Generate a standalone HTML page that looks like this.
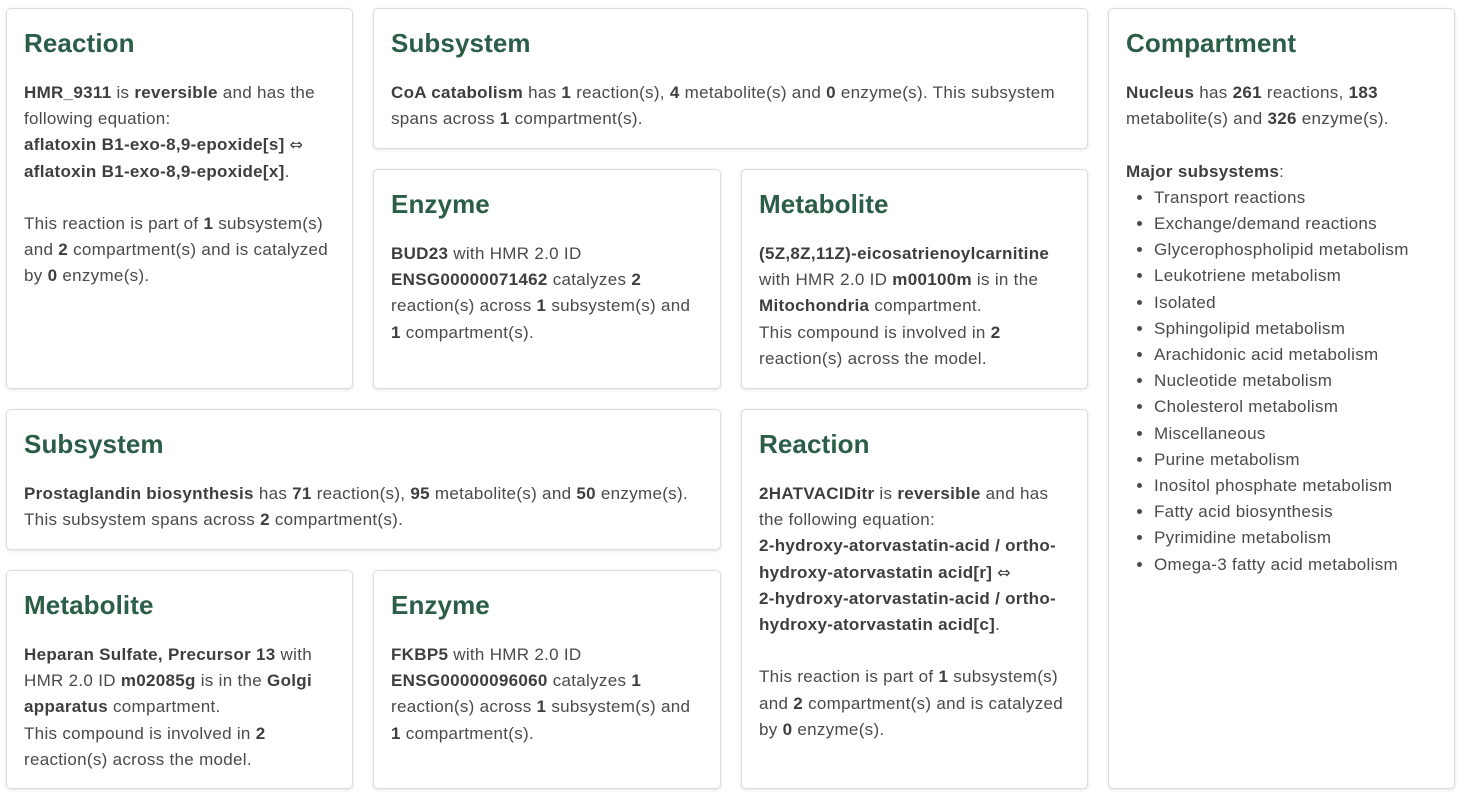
<!DOCTYPE html>
<html><head><meta charset="utf-8"><style>
body{margin:0;width:1465px;height:797px;background:#fff;font-family:"Liberation Sans",Arial,sans-serif;color:#4a4a4a;position:relative;overflow:hidden}
.c{position:absolute;box-sizing:border-box;border:1px solid #dcdcdc;border-radius:5px;box-shadow:0 1px 3px rgba(0,0,0,.12);padding:20px 10px 0 17px;background:#fff}
h2{margin:0 0 22px 0;font-size:26px;line-height:29px;font-weight:bold;color:#2b5e46;letter-spacing:0.1px}
p{margin:0;font-size:17px;line-height:26.2px;white-space:nowrap;letter-spacing:0.3px}
b{color:#3e3e3e}
.ar{font-family:"DejaVu Sans",sans-serif;font-weight:normal;font-size:16px}
ul{margin:0;padding:0 0 0 28px;font-size:17px;line-height:26.2px;letter-spacing:0.3px}
li{white-space:nowrap}
</style></head><body>
<div class="c" style="left:6px;top:8px;width:347px;height:381px"><h2>Reaction</h2>
<p><b>HMR_9311</b> is <b>reversible</b> and has the<br>following equation:<br><b>aflatoxin B1-exo-8,9-epoxide[s] <span class="ar">⇔</span><br>aflatoxin B1-exo-8,9-epoxide[x]</b>.<br><br>This reaction is part of <b>1</b> subsystem(s)<br>and <b>2</b> compartment(s) and is catalyzed<br>by <b>0</b> enzyme(s).</p></div>
<div class="c" style="left:373px;top:8px;width:715px;height:141px"><h2>Subsystem</h2>
<p><b>CoA catabolism</b> has <b>1</b> reaction(s), <b>4</b> metabolite(s) and <b>0</b> enzyme(s). This subsystem<br>spans across <b>1</b> compartment(s).</p></div>
<div class="c" style="left:373px;top:169px;width:348px;height:220px"><h2>Enzyme</h2>
<p><b>BUD23</b> with HMR 2.0 ID<br><b>ENSG00000071462</b> catalyzes <b>2</b><br>reaction(s) across <b>1</b> subsystem(s) and<br><b>1</b> compartment(s).</p></div>
<div class="c" style="left:741px;top:169px;width:347px;height:220px"><h2>Metabolite</h2>
<p><b>(5Z,8Z,11Z)-eicosatrienoylcarnitine</b><br>with HMR 2.0 ID <b>m00100m</b> is in the<br><b>Mitochondria</b> compartment.<br>This compound is involved in <b>2</b><br>reaction(s) across the model.</p></div>
<div class="c" style="left:1108px;top:8px;width:347px;height:781px"><h2>Compartment</h2>
<p><b>Nucleus</b> has <b>261</b> reactions, <b>183</b><br>metabolite(s) and <b>326</b> enzyme(s).<br><br><b>Major subsystems</b>:</p>
<ul><li>Transport reactions</li><li>Exchange/demand reactions</li><li>Glycerophospholipid metabolism</li><li>Leukotriene metabolism</li><li>Isolated</li><li>Sphingolipid metabolism</li><li>Arachidonic acid metabolism</li><li>Nucleotide metabolism</li><li>Cholesterol metabolism</li><li>Miscellaneous</li><li>Purine metabolism</li><li>Inositol phosphate metabolism</li><li>Fatty acid biosynthesis</li><li>Pyrimidine metabolism</li><li>Omega-3 fatty acid metabolism</li></ul></div>
<div class="c" style="left:6px;top:409px;width:715px;height:141px"><h2>Subsystem</h2>
<p><b>Prostaglandin biosynthesis</b> has <b>71</b> reaction(s), <b>95</b> metabolite(s) and <b>50</b> enzyme(s).<br>This subsystem spans across <b>2</b> compartment(s).</p></div>
<div class="c" style="left:741px;top:409px;width:347px;height:380px"><h2>Reaction</h2>
<p><b>2HATVACIDitr</b> is <b>reversible</b> and has<br>the following equation:<br><b>2-hydroxy-atorvastatin-acid / ortho-<br>hydroxy-atorvastatin acid[r] <span class="ar">⇔</span><br>2-hydroxy-atorvastatin-acid / ortho-<br>hydroxy-atorvastatin acid[c]</b>.<br><br>This reaction is part of <b>1</b> subsystem(s)<br>and <b>2</b> compartment(s) and is catalyzed<br>by <b>0</b> enzyme(s).</p></div>
<div class="c" style="left:6px;top:570px;width:347px;height:219px"><h2>Metabolite</h2>
<p><b>Heparan Sulfate, Precursor 13</b> with<br>HMR 2.0 ID <b>m02085g</b> is in the <b>Golgi<br>apparatus</b> compartment.<br>This compound is involved in <b>2</b><br>reaction(s) across the model.</p></div>
<div class="c" style="left:373px;top:570px;width:348px;height:219px"><h2>Enzyme</h2>
<p><b>FKBP5</b> with HMR 2.0 ID<br><b>ENSG00000096060</b> catalyzes <b>1</b><br>reaction(s) across <b>1</b> subsystem(s) and<br><b>1</b> compartment(s).</p></div>
</body></html>
